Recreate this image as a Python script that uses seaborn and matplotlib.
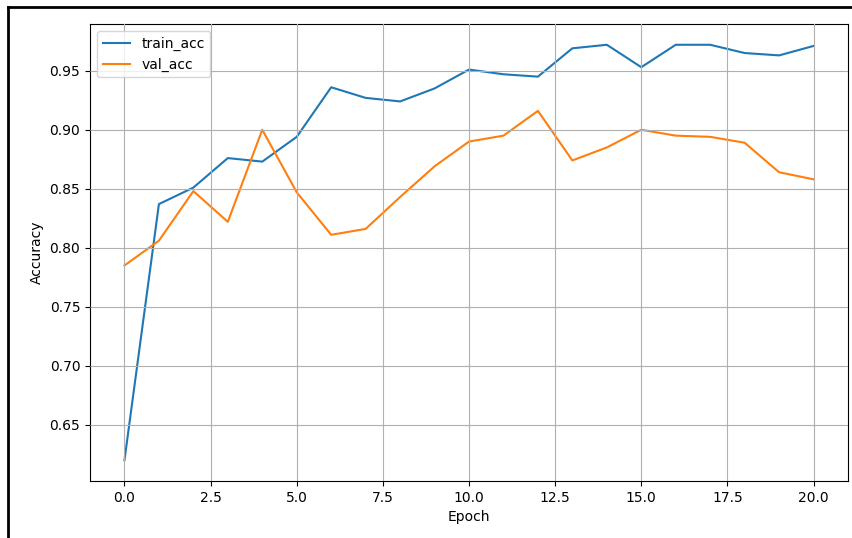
import matplotlib
matplotlib.use("Agg")
import matplotlib.pyplot as plt
from matplotlib.lines import Line2D
import seaborn as sns
import pandas as pd

epochs = list(range(21))
train_acc = [0.620, 0.837, 0.851, 0.876, 0.873, 0.894, 0.936, 0.927, 0.924, 0.935,
             0.951, 0.947, 0.945, 0.969, 0.972, 0.953, 0.972, 0.972, 0.965, 0.963, 0.971]
val_acc = [0.785, 0.806, 0.848, 0.822, 0.900, 0.847, 0.811, 0.816, 0.843, 0.869,
           0.890, 0.895, 0.916, 0.874, 0.885, 0.900, 0.895, 0.894, 0.889, 0.864, 0.858]

df = pd.DataFrame({"Epoch": epochs * 2,
                   "Accuracy": train_acc + val_acc,
                   "series": ["train_acc"] * len(epochs) + ["val_acc"] * len(epochs)})

plt.rcParams.update(plt.rcParamsDefault)
fig = plt.figure(figsize=(8.52, 5.38), dpi=100)
ax = fig.add_axes([90 / 852, 1 - 481 / 538, (848 - 90) / 852, (481 - 24) / 538])
sns.lineplot(data=df, x="Epoch", y="Accuracy", hue="series",
             palette=["#1f77b4", "#ff7f0e"], ax=ax, linewidth=1.5)
ax.grid(True, color="#b0b0b0", linewidth=0.8)
ax.set_axisbelow(False)
leg = ax.legend(loc="upper left")
ax.set_xlabel("Epoch")
ax.set_ylabel("Accuracy")

# outer frame (top and left edges visible in the reference)
fig.add_artist(Line2D([8 / 852, 8 / 852], [0, 1 - 7 / 538], transform=fig.transFigure,
                      color="black", linewidth=2))
fig.add_artist(Line2D([8 / 852, 1], [1 - 7 / 538, 1 - 7 / 538], transform=fig.transFigure,
                      color="black", linewidth=2))

fig.savefig("out.png", dpi=100)
